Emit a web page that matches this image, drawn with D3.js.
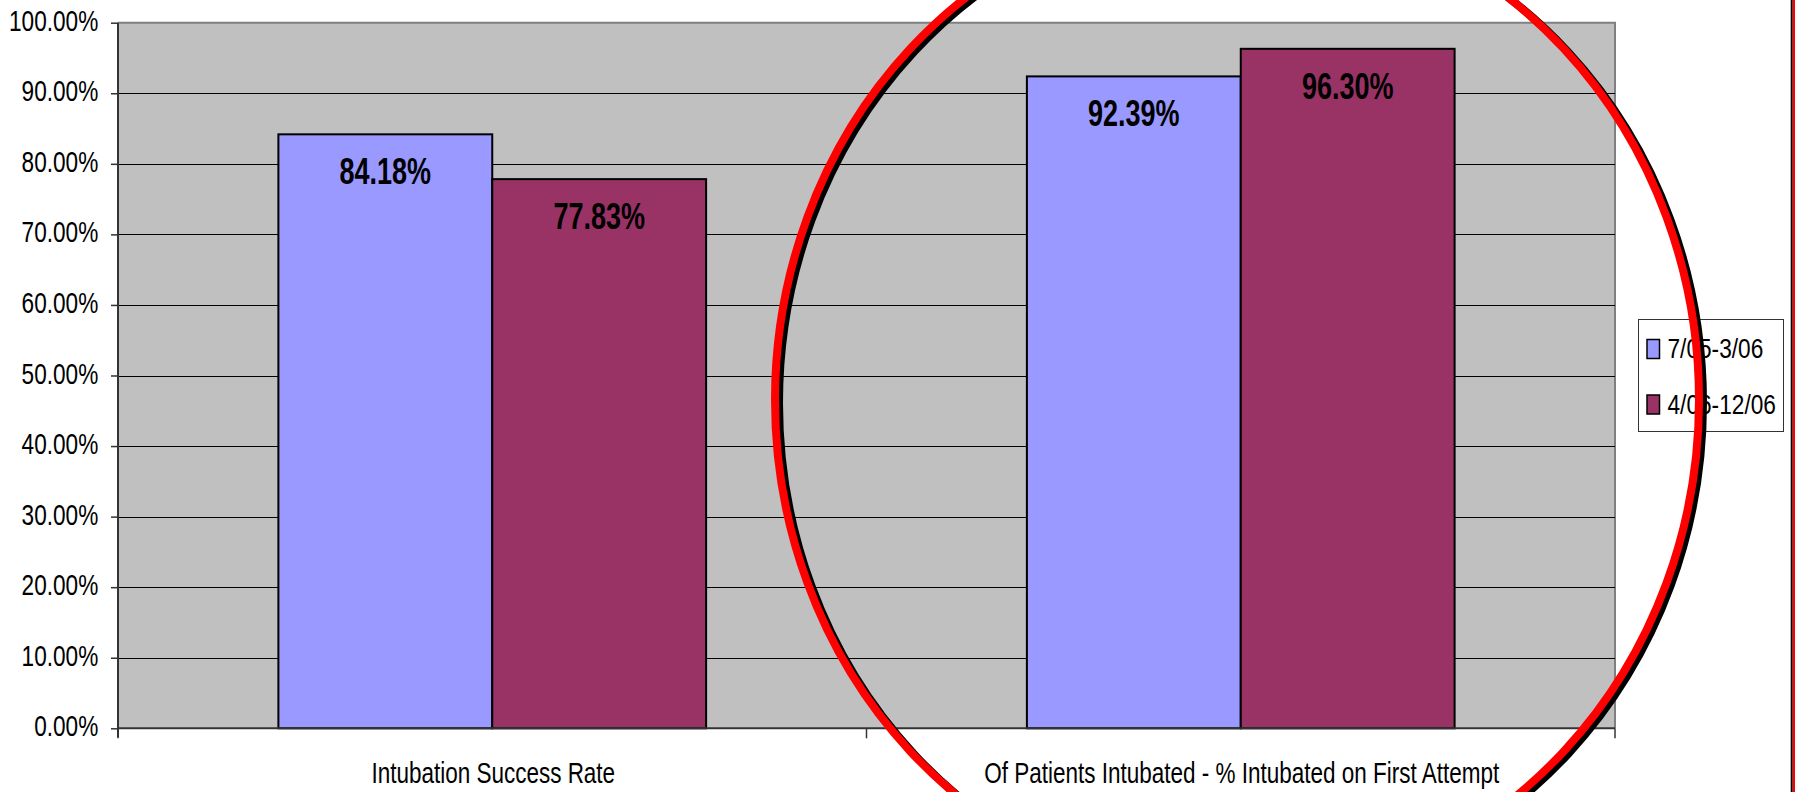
<!DOCTYPE html>
<html>
<head>
<meta charset="utf-8">
<script src="https://cdn.jsdelivr.net/npm/d3@7"></script>
<style>
  html, body { margin: 0; padding: 0; background: #ffffff; }
  svg { display: block; }
  text { font-family: "Liberation Sans", Arial, sans-serif; }
</style>
</head>
<body>
<svg id="chart" width="1795" height="792"></svg>
<script>
const categories = ["Intubation Success Rate", "Of Patients Intubated - % Intubated on First Attempt"];
const seriesNames = ["7/05-3/06", "4/06-12/06"];
const seriesA = [84.18, 92.39];
const seriesB = [77.83, 96.30];
const yTickValues = [0, 10, 20, 30, 40, 50, 60, 70, 80, 90, 100];
const seriesColors = ["#9999FF", "#993366"];

const svg = d3.select("#chart");
const plot = { left: 118, right: 1615, top: 22.7, bottom: 728.3 };

const x0 = d3.scaleBand().domain(categories).range([plot.left, plot.right]).padding(0);
const x1 = d3.scaleBand().domain(seriesNames).range([0, x0.bandwidth()]).paddingInner(0).paddingOuter(0.75);
const y = d3.scaleLinear().domain([0, 100]).range([plot.bottom, plot.top]);

const seriesValues = [seriesA, seriesB];
const barData = [];
categories.forEach((c, ci) => {
  seriesNames.forEach((s, si) => {
    barData.push({ cat: c, series: s, value: seriesValues[si][ci], color: seriesColors[si] });
  });
});

// plot background
svg.append("rect")
  .attr("x", plot.left).attr("y", plot.top)
  .attr("width", plot.right - plot.left).attr("height", plot.bottom - plot.top)
  .attr("fill", "#C0C0C0");
// top and right border
svg.append("path")
  .attr("d", `M${plot.left},${plot.top}H${plot.right}V${plot.bottom}`)
  .attr("fill", "none").attr("stroke", "#808080").attr("stroke-width", 2);

// gridlines
svg.append("g").selectAll("line")
  .data(yTickValues.filter(v => v > 0 && v < 100))
  .join("line")
  .attr("x1", plot.left).attr("x2", plot.right)
  .attr("y1", d => Math.round(y(d)) + 0.5).attr("y2", d => Math.round(y(d)) + 0.5)
  .attr("stroke", "#000").attr("stroke-width", 1);

// bars
svg.append("g").selectAll("rect")
  .data(barData)
  .join("rect")
  .attr("x", d => x0(d.cat) + x1(d.series))
  .attr("y", d => y(d.value))
  .attr("width", x1.bandwidth())
  .attr("height", d => y(0) - y(d.value))
  .attr("fill", d => d.color)
  .attr("stroke", "#000").attr("stroke-width", 2);

// data labels
svg.append("g").selectAll("text")
  .data(barData)
  .join("text")
  .attr("transform", d => `translate(${x0(d.cat) + x1(d.series) + x1.bandwidth() / 2},${y(d.value) + 50}) scale(0.73,1)`)
  .attr("text-anchor", "middle")
  .attr("font-size", 37).attr("font-weight", "bold")
  .attr("fill", "#000")
  .text(d => d.value.toFixed(2) + "%");

// y axis
const yAxis = d3.axisLeft(y).tickValues(yTickValues).tickSize(7).tickFormat(d => d.toFixed(2) + "%");
const gy = svg.append("g").attr("transform", `translate(${plot.left},0)`).call(yAxis);
gy.select(".domain").attr("stroke", "#333").attr("stroke-width", 2)
  .attr("d", `M0,${plot.top}V${plot.bottom + 9}`);
gy.selectAll(".tick line").attr("stroke", "#333").attr("stroke-width", 1.5);
gy.selectAll(".tick text").remove();
gy.selectAll(".tick").append("text")
  .attr("transform", "translate(-19.7,7.5) scale(0.78,1)")
  .attr("text-anchor", "end")
  .attr("font-size", 29).attr("fill", "#000")
  .text(d => d.toFixed(2) + "%");

// x axis
const gx = svg.append("g").attr("transform", `translate(0,${plot.bottom})`);
gx.append("line").attr("x1", plot.left).attr("x2", plot.right)
  .attr("y1", 0).attr("y2", 0).attr("stroke", "#333").attr("stroke-width", 2);
const boundaries = [plot.left].concat(categories.map(c => x0(c) + x0.bandwidth()));
gx.selectAll("line.tk").data(boundaries).join("line").attr("class", "tk")
  .attr("x1", d => d).attr("x2", d => d).attr("y1", 0).attr("y2", 10)
  .attr("stroke", "#333").attr("stroke-width", 1.5);
gx.selectAll("text").data(categories).join("text")
  .attr("transform", d => `translate(${x0(d) + x0.bandwidth() / 2 + 1},55) scale(0.75,1)`)
  .attr("text-anchor", "middle")
  .attr("font-size", 30).attr("fill", "#000")
  .text(d => d);

// legend
const lg = svg.append("g");
lg.append("rect").attr("x", 1638.5).attr("y", 319.5).attr("width", 145).attr("height", 112)
  .attr("fill", "#fff").attr("stroke", "#333").attr("stroke-width", 1);
const legendRowY = [358, 413.5];
seriesNames.forEach((s, i) => {
  lg.append("rect").attr("x", 1647).attr("y", legendRowY[i] - 18.5).attr("width", 12.5).attr("height", 19)
    .attr("fill", seriesColors[i]).attr("stroke", "#000").attr("stroke-width", 1.5);
  lg.append("text")
    .attr("transform", `translate(1667.5,${legendRowY[i]}) scale(0.84,1)`)
    .attr("font-size", 27).attr("fill", "#000")
    .text(s);
});

// right edge frame line
svg.append("line").attr("x1", 1791.7).attr("x2", 1791.7).attr("y1", 0).attr("y2", 792)
  .attr("stroke", "#000").attr("stroke-width", 2);
svg.append("line").attr("x1", 1794).attr("x2", 1794).attr("y1", 0).attr("y2", 792)
  .attr("stroke", "#FF0000").attr("stroke-width", 2.5);

// highlight ellipse with shadow
const ell = { cx: 1237, cy: 400, rx: 462, ry: 497 };
svg.append("ellipse")
  .attr("cx", ell.cx + 4).attr("cy", ell.cy + 3).attr("rx", ell.rx).attr("ry", ell.ry)
  .attr("fill", "none").attr("stroke", "#000").attr("stroke-width", 8);
svg.append("ellipse")
  .attr("cx", ell.cx).attr("cy", ell.cy).attr("rx", ell.rx).attr("ry", ell.ry)
  .attr("fill", "none").attr("stroke", "#FF0000").attr("stroke-width", 8);
</script>
</body>
</html>
